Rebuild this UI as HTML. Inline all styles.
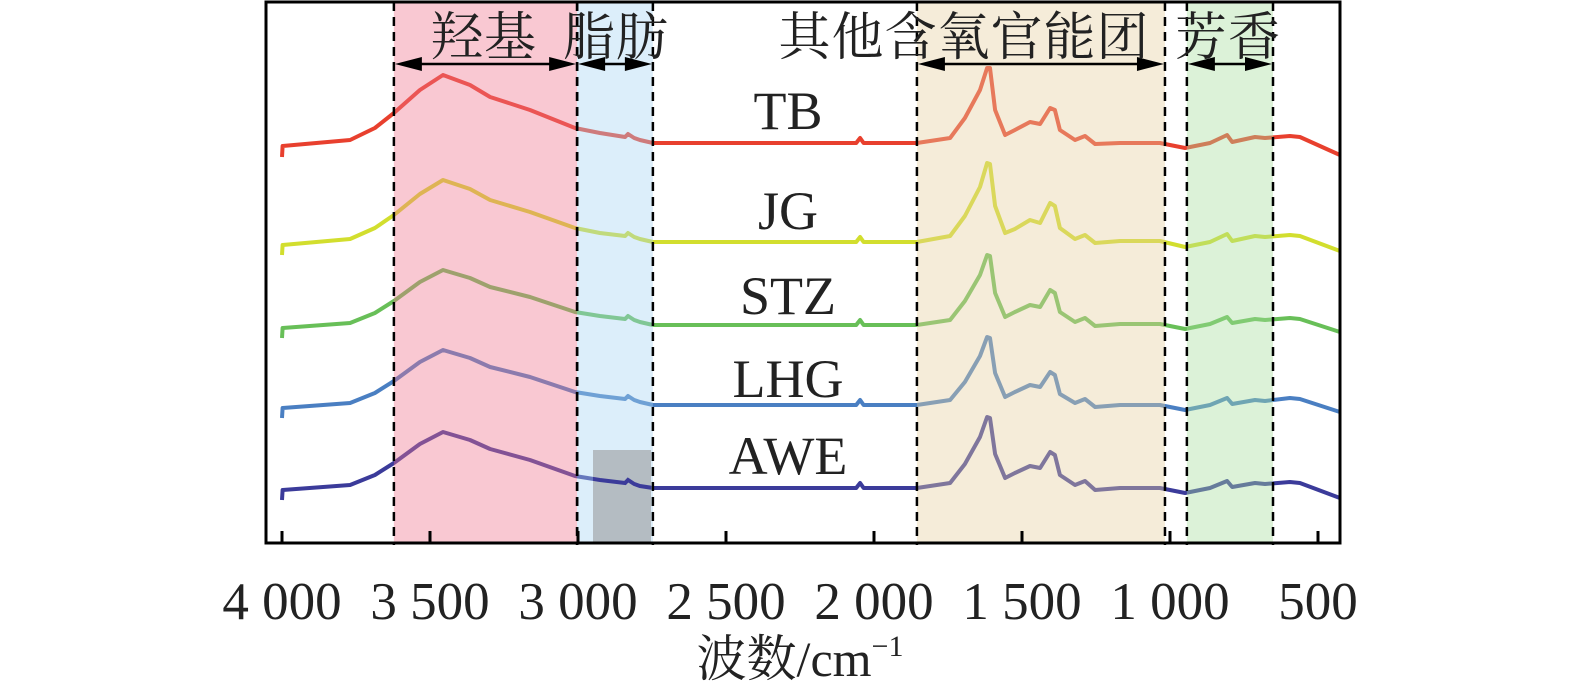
<!DOCTYPE html>
<html><head><meta charset="utf-8"><style>
html,body{margin:0;padding:0;background:#fff;}
svg{display:block;}
text{font-family:"Liberation Serif","Noto Serif CJK SC",serif;fill:#222;}
</style></head><body>
<svg id="chart" width="1575" height="694" viewBox="0 0 1575 694" xmlns="http://www.w3.org/2000/svg">
<defs><clipPath id="greyClip"><rect x="593" y="450" width="58" height="93"/></clipPath></defs>
<g id="under"></g><g id="curves"></g><g id="over"></g><g id="axes"></g>
</svg>
<script>
const wavenumbers=[4000,3998,3770,3686,3622,3534,3456,3365,3297,3162,3010,2926,2841,2831,2810,2791,2747,2500,2060,2047,2035,1855,1743,1693,1642,1618,1608,1591,1557,1524,1473,1439,1405,1389,1372,1321,1287,1253,1169,1034,949,865,807,790,713,679,595,561,426];
const seriesNames=["TB","JG","STZ","LHG","AWE"];
const tbValues=[393,404,410,422,437,460,475,465,453,440,422,417,413,416,412,410,407,407,407,412,407,407,412,432,460,482,482,440,415,420,428,426,442,440,420,410,414,406,407,407,402,407,415,408,413,412,414,413,395];
const jgValues=[295,305,311,322,335,356,370,361,350,338,322,317,314,317,313,311,308,308,308,313,308,308,314,334,363,387,386,344,317,321,330,327,347,344,322,311,315,307,309,309,303,308,316,309,314,313,315,314,299];
const stzValues=[212,222,227,237,249,268,280,272,263,253,238,234,231,234,230,228,225,225,225,230,225,225,230,249,275,295,294,257,233,238,245,243,260,257,238,228,232,224,226,226,221,226,233,227,231,230,232,231,218];
const lhgValues=[132,142,147,157,169,188,200,192,183,173,158,154,151,154,150,148,145,145,145,150,145,145,150,168,194,213,212,177,153,158,165,163,178,175,156,147,151,143,145,145,140,145,152,146,150,149,152,151,138];
const aweValues=[50,60,65,75,87,106,118,110,101,90,74,70,67,70,66,64,62,62,62,67,62,62,67,86,113,133,132,96,72,77,84,82,98,95,75,65,69,60,62,62,57,62,69,63,67,66,68,67,52];
const seriesColors=["#e8402e","#d2de2e","#68bf58","#4a7fc2","#3b3b9a"];
const xTicks=[4000,3500,3000,2500,2000,1500,1000,500];
const xTickLabels=["4 000","3 500","3 000","2 500","2 000","1 500","1 000","500"];
const regionNames=["羟基","脂肪","其他含氧官能团","芳香"];
const regionStarts=[3622,3003,1855,943];
const regionEnds=[3003,2747,1017,652];
const labelY=[110,210,295,378,455];

const NS="http://www.w3.org/2000/svg";
const X0=282,KX=0.296;
function xs(w){return X0+(4000-w)*KX;}
function ys(a){return 550-a;}
function mk(tag,attrs,parent){const e=document.createElementNS(NS,tag);for(const k in attrs)e.setAttribute(k,attrs[k]);parent.appendChild(e);return e;}
const under=document.getElementById('under'),curves=document.getElementById('curves'),over=document.getElementById('over'),axes=document.getElementById('axes');
const bandColors=["rgb(240,117,142)","rgb(167,212,242)","rgb(230,207,160)","rgb(167,222,157)"];
const allSeries=[tbValues,jgValues,stzValues,lhgValues,aweValues];
function pathD(vals){return vals.map((v,j)=>(j?'L':'M')+xs(wavenumbers[j]).toFixed(1)+' '+ys(v)).join(' ');}
allSeries.forEach((vals,i)=>{
  const p=mk('path',{d:pathD(vals),fill:'none',stroke:seriesColors[i],'stroke-width':4,'stroke-linejoin':'round'},curves);
  
  
  const t=mk('text',{x:788,y:labelY[i]+19,'text-anchor':'middle','font-size':54},curves);
  t.textContent=seriesNames[i];
  
  
});
regionStarts.forEach((s,i)=>{
  const x1=xs(s),x2=xs(regionEnds[i]);
  const r=mk('rect',{x:x1,y:2,width:x2-x1,height:541,fill:bandColors[i],opacity:0.4},over);
  
  
});
const gr=mk('rect',{x:593,y:450,width:58,height:93,fill:'#b4bcc2'},over);


const aw=mk('path',{d:pathD(aweValues),fill:'none',stroke:seriesColors[4],'stroke-width':4,'clip-path':'url(#greyClip)'},over);


regionStarts.forEach((s,i)=>{
  const x1=xs(s),x2=xs(regionEnds[i]);
  [x1,x2].forEach(x=>{
    const l=mk('line',{x1:x,y1:2,x2:x,y2:545,stroke:'#000','stroke-width':2.5,'stroke-dasharray':'9,6'},over);
    
    
  });
  const a=mk('g',{},over);
  
  
  mk('line',{x1:x1+20,y1:64,x2:x2-20,y2:64,stroke:'#000','stroke-width':2.5},a);
  mk('polygon',{points:`${x1+1},64 ${x1+28},57 ${x1+28},71`,fill:'#000'},a);
  mk('polygon',{points:`${x2-1},64 ${x2-28},57 ${x2-28},71`,fill:'#000'},a);
});
const titleX=[484,616,964,1228];
regionNames.forEach((n,i)=>{
  const t=mk('text',{x:titleX[i],y:55,'text-anchor':'middle','font-size':52,'letter-spacing':'1'},over);
  t.textContent=n;
  
  
});
const frame=mk('rect',{x:266,y:2,width:1074,height:541,fill:'none',stroke:'#000','stroke-width':3},axes);


xTicks.forEach((v,i)=>{
  const x=xs(v);
  const l=mk('line',{x1:x,y1:543,x2:x,y2:531,stroke:'#000','stroke-width':3},axes);
  
  
  const t=mk('text',{x:x,y:619,'text-anchor':'middle','font-size':53},axes);
  t.textContent=xTickLabels[i];
  
  
});
const xt=mk('text',{x:800,y:676,'text-anchor':'middle','font-size':50},axes);
xt.innerHTML='波数/cm<tspan dy="-20" font-size="30">−1</tspan>';


</script>
</body></html>
